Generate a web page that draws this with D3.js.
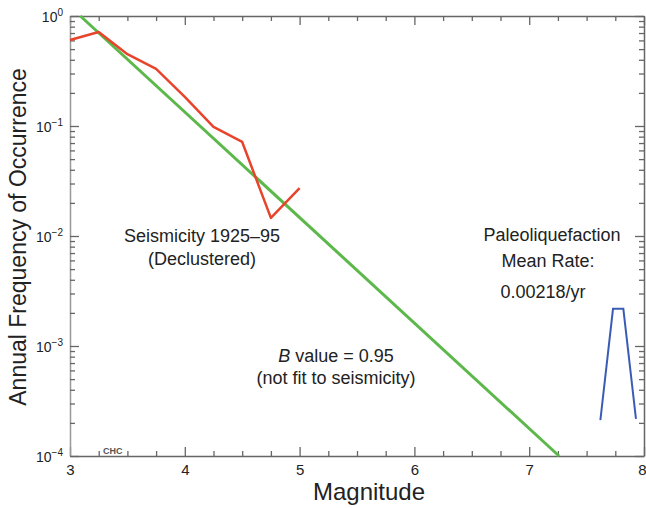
<!DOCTYPE html>
<html>
<head>
<meta charset="utf-8">
<script src="https://cdn.jsdelivr.net/npm/d3@7"></script>
<style>
  body { margin: 0; background: #fff; }
  svg { font-family: "Liberation Sans", Arial, sans-serif; }
</style>
</head>
<body>
<svg id="chart" width="646" height="508"></svg>
<script>
// Data
const seisMag = [3.0, 3.25, 3.5, 3.75, 4.0, 4.25, 4.5, 4.75, 5.0];
const seisFreq = [0.605, 0.716, 0.45, 0.33, 0.184, 0.098, 0.0716, 0.0146, 0.0273];
const bValueMag = [3.09, 7.26];
const bValueFreq = [1.0, 0.0001];
const paleoMag = [7.62, 7.73, 7.82, 7.93];
const paleoFreq = [0.000212, 0.00218, 0.00218, 0.000218];
const xMajor = [3, 4, 5, 6, 7, 8];
const yDecades = [0, -1, -2, -3, -4];

const svg = d3.select("#chart");
const x = d3.scaleLinear().domain([3, 8]).range([70, 644]);
const y = d3.scaleLog().domain([1e-4, 1]).range([456, 16]);

const axisColor = "#666";
const xTicks = d3.range(3, 8.001, 0.25);
const yTicks = [];
yDecades.forEach(e => {
  for (let k = 1; k < 10; k++) {
    const v = k * Math.pow(10, e - 1);
    if (v >= 1e-4 && v <= 1) yTicks.push(v);
  }
});
yTicks.push(1);
const isMajorX = v => xMajor.some(m => Math.abs(v - m) < 1e-6);
const isMajorY = v => Math.abs(Math.log10(v) - Math.round(Math.log10(v))) < 1e-6;

function styleAxis(g, isMajor, attr, sign, majLen, minLen) {
  g.select(".domain").attr("stroke", axisColor).attr("stroke-width", 1.5);
  g.selectAll(".tick line")
    .attr("stroke", axisColor)
    .attr("stroke-width", 1.3)
    .attr(attr, d => sign * (isMajor(d) ? majLen : minLen));
}

// bottom axis
const gx = svg.append("g").attr("transform", `translate(0,${y(1e-4)})`)
  .call(d3.axisBottom(x).tickValues(xTicks).tickSizeOuter(0)
    .tickFormat(d => isMajorX(d) ? d3.format("d")(d) : ""));
styleAxis(gx, isMajorX, "y2", -1, 9, 5);
gx.selectAll(".tick text").attr("y", 8).attr("font-size", 15).attr("fill", "#222")
  .attr("font-family", "Liberation Sans, Arial, sans-serif")
  .filter(d => d === 8).attr("text-anchor", "end").attr("x", 2);

// top axis
const gxt = svg.append("g").attr("transform", `translate(0,${y(1)})`)
  .call(d3.axisTop(x).tickValues(xTicks).tickSizeOuter(0).tickFormat(""));
styleAxis(gxt, isMajorX, "y2", 1, 9, 5);

// left axis
const gy = svg.append("g").attr("transform", `translate(${x(3)},0)`)
  .call(d3.axisLeft(y).tickValues(yTicks).tickSizeOuter(0).tickFormat(""));
styleAxis(gy, isMajorY, "x2", 1, 9, 5);
gy.select(".domain").attr("stroke", "#999");

// right axis
const gyr = svg.append("g").attr("transform", `translate(${x(8)},0)`)
  .call(d3.axisRight(y).tickValues(yTicks).tickSizeOuter(0).tickFormat(""));
styleAxis(gyr, isMajorY, "x2", -1, 9, 5);

// y tick labels 10^n
yDecades.forEach(e => {
  const t = svg.append("text")
    .attr("x", 63).attr("y", y(Math.pow(10, e)) + 6)
    .attr("text-anchor", "end").attr("font-size", 14).attr("fill", "#222");
  t.append("tspan").text("10");
  t.append("tspan").attr("dy", -6).attr("font-size", 10)
    .text(e === 0 ? "0" : "\u2212" + Math.abs(e));
});

// lines
const line = d3.line().x(d => x(d[0])).y(d => y(d[1]));
svg.append("path")
  .datum(bValueMag.map((m, i) => [m, bValueFreq[i]]))
  .attr("d", line).attr("fill", "none")
  .attr("stroke", "#5cb84a").attr("stroke-width", 3);
svg.append("path")
  .datum(seisMag.map((m, i) => [m, seisFreq[i]]))
  .attr("d", line).attr("fill", "none")
  .attr("stroke", "#e8442c").attr("stroke-width", 2.5)
  .attr("stroke-linejoin", "round");
svg.append("path")
  .datum(paleoMag.map((m, i) => [m, paleoFreq[i]]))
  .attr("d", line).attr("fill", "none")
  .attr("stroke", "#3a5cb4").attr("stroke-width", 2);

// annotations
function label(txt, cx, by, size) {
  return svg.append("text").attr("x", cx).attr("y", by)
    .attr("text-anchor", "middle").attr("font-size", size).attr("fill", "#222").text(txt);
}
label("Seismicity 1925\u201395", 202, 242, 18);
label("(Declustered)", 202, 265, 18);
const bv = svg.append("text").attr("x", 336).attr("y", 362)
  .attr("text-anchor", "middle").attr("font-size", 18).attr("fill", "#222");
bv.append("tspan").attr("font-style", "italic").text("B");
bv.append("tspan").text(" value = 0.95");
label("(not fit to seismicity)", 336, 384, 18);
label("Paleoliquefaction", 552, 241, 18);
label("Mean Rate:", 548, 267, 18);
label("0.00218/yr", 543, 298, 18);

svg.append("text").attr("x", 103).attr("y", 454).attr("font-size", 9)
  .attr("fill", "#555").attr("font-weight", "bold").text("CHC");

// axis titles
label("Magnitude", 369, 500, 24);
svg.append("text")
  .attr("transform", `translate(26,237) rotate(-90)`)
  .attr("text-anchor", "middle").attr("font-size", 23).attr("fill", "#222")
  .text("Annual Frequency of Occurrence");
</script>
</body>
</html>
